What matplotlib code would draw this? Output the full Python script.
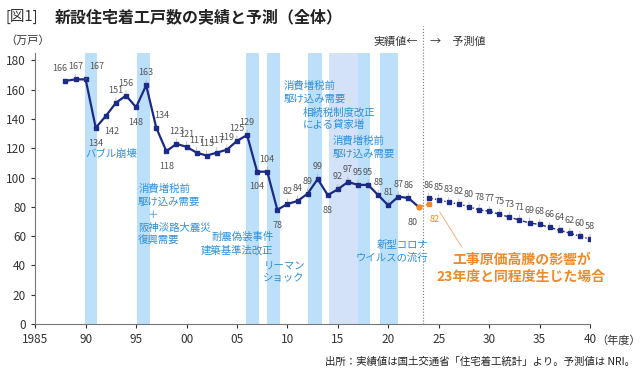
import numpy as np
import matplotlib.pyplot as plt

plt.rcParams['font.family'] = ['Noto Sans CJK JP', 'DejaVu Sans']

# actual values (fiscal year, 10k units)
years = list(range(1988, 2023))
actual = [166, 167, 167, 134, 142, 151, 156, 148, 163, 134, 118, 123, 121, 117, 115,
          117, 119, 125, 129, 104, 104, 78, 82, 84, 89, 99, 88, 92, 97, 95, 95, 88, 81, 87, 86]
# placement of value labels: 1 above, -1 below
label_side = [1, 1, 1, -1, -1, 1, 1, -1, 1, 1, -1, 1, 1, 1, 1,
              1, 1, 1, 1, -1, 1, -1, 1, 1, 1, 1, -1, 1, 1, 1, 1, 1, 1, 1, 1]
label_dx = {1988: -4, 1990: 8, 1992: 4, 1997: 4}
year_2023, value_2023 = 2023, 80
fc_years = list(range(2024, 2041))
forecast = [86, 85, 83, 82, 80, 78, 77, 75, 73, 71, 69, 68, 66, 64, 62, 60, 58]
alt_year, alt_value = 2024, 82

bands = [(1989.9, 1991.1), (1995.1, 1996.4), (2005.9, 2007.2), (2008.0, 2009.3),
         (2012.0, 2013.4), (2017.0, 2018.2), (2019.2, 2021.0)]
light_band = (2014.1, 2017.0)

navy = '#1b2a85'
orange = '#ef8a2a'
blue_txt = '#2f8fd8'
grey = '#555555'

fig = plt.figure(figsize=(6.4, 3.76), dpi=100)
ax = fig.add_axes([0.055, 0.138, 0.867, 0.721])

for a, b in bands:
    ax.axvspan(a, b, color='#bde0fa', lw=0, zorder=0)
ax.axvspan(*light_band, color='#d3e2f8', lw=0, zorder=0)

ax.plot(years, actual, '-', color=navy, lw=1.6, marker='s', ms=2.5, zorder=3)
ax.plot([years[-1], year_2023], [actual[-1], value_2023], '-', color=navy, lw=1.6, zorder=3)
ax.plot([year_2023], [value_2023], 'o', color=orange, ms=3.5, zorder=4)
ax.plot([year_2023, alt_year], [value_2023, alt_value], '--', color=orange, lw=1, zorder=3)
ax.plot([alt_year], [alt_value], 's', color=orange, ms=2.5, zorder=4)
ax.plot(fc_years, forecast, linestyle=(0, (3, 1.5, 1, 1.5)), color=navy, lw=1,
        marker='s', ms=2.5, zorder=3)

def vlabel(x, y, side, color=grey, dx=0):
    off = 9 if side > 0 else -11
    ax.annotate(str(y), (x, y), xytext=(dx, off), textcoords='offset points',
                ha='center', va='center', fontsize=6.5, color=color,
                arrowprops=dict(arrowstyle='-', lw=0.4, color='#999999',
                                shrinkA=4, shrinkB=1.5))

for x, y, s in zip(years, actual, label_side):
    vlabel(x, y, s, dx=label_dx.get(x, 0))
vlabel(year_2023, value_2023, -1, dx=-4)
vlabel(alt_year, alt_value, -1, color=orange, dx=4)
for x, y in zip(fc_years, forecast):
    vlabel(x, y, 1)

ax.axvline(2023.45, ymin=0, ymax=1.1, color='#777777', lw=0.8, ls=':', clip_on=False)
ax.text(2022.9, 192.5, '実績値←', ha='right', va='center', fontsize=8, color='#333333')
ax.text(2024.1, 192.5, '→　予測値', ha='left', va='center', fontsize=8, color='#333333')

ax.set_xlim(1985, 2040)
ax.set_ylim(0, 185)
ax.set_yticks(range(0, 181, 20))
xt = list(range(1985, 2041, 5))
ax.set_xticks(xt)
ax.set_xticklabels(['1985'] + [f'{v % 100:02d}' for v in xt[1:]])
ax.tick_params(labelsize=8.5, colors='#333333', length=3, width=0.8)
for sp in ['top', 'right']:
    ax.spines[sp].set_visible(False)
for sp in ['left', 'bottom']:
    ax.spines[sp].set_color('#777777')
ax.text(2040.6, -11.5, '（年度）', ha='left', va='center', fontsize=8, color='#333333',
        clip_on=False)

tk = dict(fontsize=7.5, color=blue_txt, va='center')
notes = [
    (1992.5, 116.0, 'バブル崩壊', 'center'),
    (1995.2, 92.8, '消費増税前', 'left'),
    (1995.2, 83.3, '駆け込み需要', 'left'),
    (1996.7, 74.4, '＋', 'center'),
    (1995.2, 65.5, '阪神淡路大震災', 'left'),
    (1995.2, 56.7, '復興需要', 'left'),
    (2008.6, 59.4, '耐震偽装事件', 'right'),
    (2008.6, 50.5, '建築基準法改正', 'right'),
    (2007.6, 40.3, 'リーマン', 'left'),
    (2007.6, 31.4, 'ショック', 'left'),
    (2009.65, 163.0, '消費増税前', 'left'),
    (2009.65, 153.6, '駆け込み需要', 'left'),
    (2011.5, 144.7, '相続税制度改正', 'left'),
    (2011.5, 135.8, 'による貸家増', 'left'),
    (2014.5, 125.6, '消費増税前', 'left'),
    (2014.5, 116.0, '駆け込み需要', 'left'),
    (2024.0, 53.9, '新型コロナ', 'right'),
    (2024.0, 45.0, 'ウイルスの流行', 'right'),
]
for x, y, s, ha in notes:
    ax.text(x, y, s, ha=ha, **tk)

ax.annotate('', xy=(2025.1, 76.5), xytext=(2027.3, 52.5),
            arrowprops=dict(arrowstyle='-', lw=0.7, color='#f3b27a',
                            shrinkA=0, shrinkB=0))
ax.text(2033.2, 38, '工事原価高騰の影響が\n23年度と同程度生じた場合', ha='center',
        va='center', fontsize=10, fontweight='bold', color=orange, linespacing=1.25)

fig.text(0.008, 0.955, '[図1]', fontsize=10.5, color='#333333', va='center')
fig.text(0.085, 0.955, '新設住宅着工戸数の実績と予測（全体）', fontsize=11.5,
         fontweight='bold', color='#222222', va='center')
fig.text(0.008, 0.893, '（万戸）', fontsize=8, color='#333333', va='center')
fig.text(0.992, 0.037, '出所：実績値は国土交通省「住宅着工統計」より。予測値は NRI。',
         fontsize=7.5, color='#222222', ha='right', va='center')

fig.savefig('out.png', dpi=100)
